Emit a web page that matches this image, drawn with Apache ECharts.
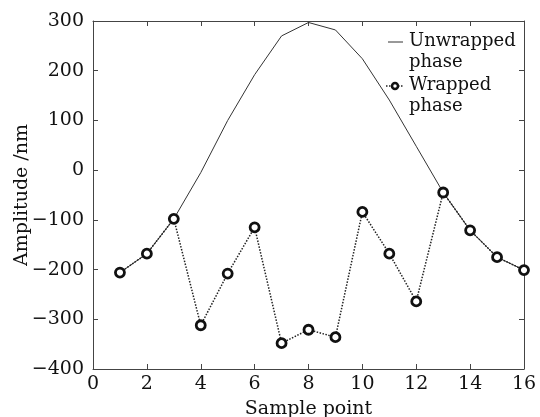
<!DOCTYPE html>
<html>
<head>
<meta charset="utf-8">
<script src="https://cdn.jsdelivr.net/npm/echarts@6/dist/echarts.min.js"></script>
<style>
  html, body { margin: 0; padding: 0; background: #fff; }
  #chart { width: 540px; height: 417px; }
</style>
</head>
<body>
<div id="chart"></div>
<script>
// 采样点
const samplePoints = [1, 2, 3, 4, 5, 6, 7, 8, 9, 10, 11, 12, 13, 14, 15, 16];
// 解包裹相位 (nm)
const unwrappedPhase = [-206, -168, -98, -5, 100, 192, 270, 297, 282, 224, 141, 48, -45, -121, -175, -201];
// 包裹相位 (nm)
const wrappedPhase = [-206, -168, -98, -312, -208, -115, -348, -321, -336, -84, -168, -264, -45, -121, -175, -201];

const FONT = 'DejaVu Serif';

moduleInit();

function moduleInit() {
    let chart = echarts.init(document.getElementById('chart'));

    // 组装坐标点
    let unwrappedPoints = [];
    let wrappedPoints = [];
    for (let i = 0; i < samplePoints.length; i++) {
        unwrappedPoints.push([samplePoints[i], unwrappedPhase[i]]);
        wrappedPoints.push([samplePoints[i], wrappedPhase[i]]);
    }

    const axisLine = {show: true, onZero: false, lineStyle: {color: '#444', width: 1}};
    const tick = {show: true, inside: true, length: 5, lineStyle: {color: '#444'}};
    const label = {color: '#111', fontFamily: FONT, fontSize: 19};

    let option = {
        animation: false,
        grid: {left: 93, right: 16, top: 21, bottom: 48, outerBoundsMode: 'none', containLabel: false},
        xAxis: [{
            type: 'value', min: 0, max: 16, interval: 2, position: 'bottom',
            name: 'Sample point', nameLocation: 'middle', nameGap: 31, nameMoveOverlap: false,
            nameTextStyle: {color: '#111', fontFamily: FONT, fontSize: 19},
            axisLine: axisLine, axisTick: tick,
            axisLabel: Object.assign({margin: 6}, label),
            splitLine: {show: false}
        }, {
            type: 'value', min: 0, max: 16, interval: 2, position: 'top',
            axisLine: axisLine, axisTick: tick, axisLabel: {show: false},
            splitLine: {show: false}
        }],
        yAxis: [{
            type: 'value', min: -400, max: 300, interval: 100, position: 'left',
            name: 'Amplitude /nm', nameLocation: 'middle', nameGap: 61, nameRotate: 90, nameMoveOverlap: false,
            nameTextStyle: {color: '#111', fontFamily: FONT, fontSize: 19},
            axisLine: axisLine, axisTick: tick,
            axisLabel: Object.assign({
                margin: 9,
                formatter: function (v) { return String(v).replace('-', '\u2212'); }
            }, label),
            splitLine: {show: false}
        }, {
            type: 'value', min: -400, max: 300, interval: 100, position: 'right',
            axisLine: axisLine, axisTick: tick, axisLabel: {show: false},
            splitLine: {show: false}
        }],
        series: [{
            name: 'Unwrapped phase',
            type: 'line',
            data: unwrappedPoints,
            showSymbol: false,
            lineStyle: {color: '#333', width: 1},
            z: 2
        }, {
            name: 'Wrapped phase',
            type: 'line',
            data: wrappedPoints,
            symbol: 'circle',
            symbolSize: 9,
            itemStyle: {color: '#fff', borderColor: '#111', borderWidth: 2.8},
            lineStyle: {color: '#222', width: 1.5, type: 'dotted'},
            z: 3
        }],
        // 图例
        graphic: [
            {type: 'line', shape: {x1: 388, y1: 42, x2: 403, y2: 42}, style: {stroke: '#333', lineWidth: 1}},
            {type: 'text', left: 409, top: 31, style: {text: 'Unwrapped\nphase', font: '18px "DejaVu Serif"', fill: '#111', lineHeight: 21}},
            {type: 'line', shape: {x1: 386, y1: 86, x2: 404, y2: 86}, style: {stroke: '#222', lineWidth: 1.5, lineDash: [1.5, 1.5]}},
            {type: 'circle', shape: {cx: 395, cy: 86, r: 3}, style: {fill: '#fff', stroke: '#111', lineWidth: 2.5}},
            {type: 'text', left: 409, top: 75, style: {text: 'Wrapped\nphase', font: '18px "DejaVu Serif"', fill: '#111', lineHeight: 21}}
        ]
    };

    chart.setOption(option);
}
</script>
</body>
</html>
